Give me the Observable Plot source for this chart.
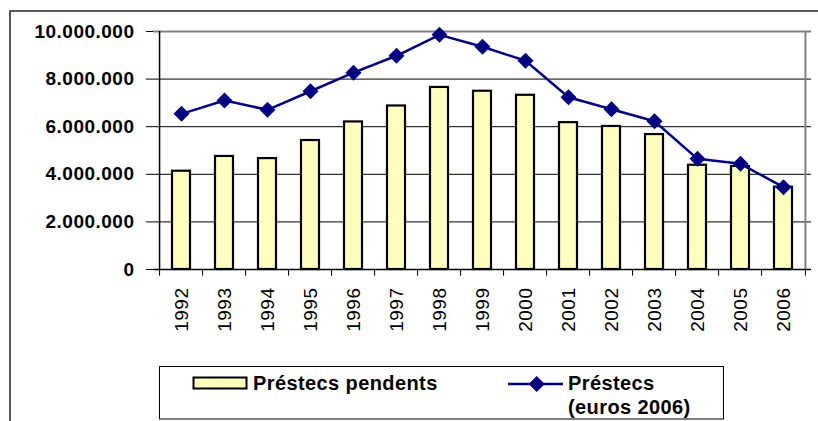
<!DOCTYPE html>
<html>
<head>
<meta charset="utf-8">
<script src="https://cdn.jsdelivr.net/npm/d3@7"></script>
<script src="https://cdn.jsdelivr.net/npm/@observablehq/plot@0.6"></script>
<style>
  html, body { margin: 0; padding: 0; background: #fff; }
  #chart { position: relative; width: 818px; height: 421px; overflow: hidden; }
</style>
</head>
<body>
<div id="chart"></div>
<script>
const years = ["1992","1993","1994","1995","1996","1997","1998","1999","2000","2001","2002","2003","2004","2005","2006"];
const pendingLoans = [4130000, 4750000, 4660000, 5420000, 6200000, 6870000, 7650000, 7490000, 7320000, 6170000, 6010000, 5670000, 4380000, 4330000, 3460000];
const loans2006 = [6540000, 7100000, 6710000, 7490000, 8270000, 8980000, 9860000, 9360000, 8770000, 7240000, 6730000, 6230000, 4650000, 4440000, 3460000];
const yTicks = [0, 2000000, 4000000, 6000000, 8000000, 10000000];
const gridTicks = [2000000, 4000000, 6000000, 8000000];
const seriesNames = ["Préstecs pendents", "Préstecs", "(euros 2006)"];

const data = years.map((y, i) => ({year: y, pending: pendingLoans[i], loans: loans2006[i]}));

const W = 818, H = 421;
const mL = 153, mR = 7, mT = 31, mB = 152;
const step = (W - mL - mR) / years.length;
const locale = d3.formatLocale({decimal: ",", thousands: ".", grouping: [3], currency: ["", ""]});
const fmt = locale.format(",");
const navy = "#000080";
const barFill = "#FFFFC0";

const plot = Plot.plot({
  width: W, height: H,
  marginLeft: mL, marginRight: mR, marginTop: mT, marginBottom: mB,
  style: {fontFamily: "'Liberation Sans', Arial, sans-serif", fontSize: "19px", color: "black", background: "white", overflow: "visible"},
  x: {type: "band", domain: years, paddingInner: 0.59, paddingOuter: 0.295},
  y: {domain: [0, 10000000]},
  marks: [
    Plot.ruleY(gridTicks, {stroke: "black", strokeWidth: 1}),
    Plot.ruleY([10000000], {stroke: "#808080", strokeWidth: 2}),
    Plot.ruleX(["2006"], {dx: step / 2, y1: 0, y2: 10000000, stroke: "#808080", strokeWidth: 2}),
    Plot.barY(data, {x: "year", y: "pending", fill: barFill, stroke: "black", strokeWidth: 2.2}),
    Plot.ruleY([0], {stroke: "black", strokeWidth: 1.5}),
    Plot.ruleX(["1992"], {dx: -step / 2, y1: 0, y2: 10000000, stroke: "black", strokeWidth: 1.5}),
    Plot.ruleX(years, {dx: -step / 2, y1: 0, y2: -280000, stroke: "black", strokeWidth: 1}),
    Plot.ruleX(["2006"], {dx: step / 2, y1: 0, y2: -280000, stroke: "black", strokeWidth: 1}),
    Plot.line(data, {x: "year", y: "loans", stroke: navy, strokeWidth: 2.5}),
    Plot.dot(data, {x: "year", y: "loans", symbol: "diamond2", r: 7.2, fill: navy, stroke: "none"}),
    Plot.axisY(yTicks, {tickFormat: fmt, tickSize: 7, tickPadding: 12, fontWeight: "bold", fontSize: 19, label: null, stroke: "black"}),
    Plot.axisX({tickSize: 0, tickRotate: -90, tickPadding: 18, fontSize: 19, label: null})
  ]
});
document.getElementById("chart").appendChild(plot);

const svg = d3.select(plot);
svg.selectAll("text").style("letter-spacing", "0.5px");

// outer chart frame
svg.append("path")
  .attr("d", "M10,425 L10,11 L822,11")
  .attr("fill", "none").attr("stroke", "#222").attr("stroke-width", 1.5);

// legend
const lg = svg.append("g").attr("font-family", "'Liberation Sans', Arial, sans-serif")
  .attr("font-weight", "bold").attr("font-size", 20).attr("text-anchor", "start")
  .style("letter-spacing", "0.4px");
lg.append("rect").attr("x", 159.5).attr("y", 366.5).attr("width", 564).attr("height", 52.5)
  .attr("fill", "white").attr("stroke", "black").attr("stroke-width", 1);
lg.append("rect").attr("x", 193.5).attr("y", 377.5).attr("width", 53).attr("height", 11)
  .attr("fill", barFill).attr("stroke", "black").attr("stroke-width", 2);
lg.append("text").attr("x", 253).attr("y", 389.5).attr("text-anchor", "start").text(seriesNames[0]);
lg.append("line").attr("x1", 508).attr("x2", 563).attr("y1", 384).attr("y2", 384)
  .attr("stroke", navy).attr("stroke-width", 2.5);
lg.append("path").attr("d", "M536.7,376 L544.7,384 L536.7,392 L528.7,384 Z").attr("fill", navy);
lg.append("text").attr("x", 568).attr("y", 389.5).attr("text-anchor", "start").text(seriesNames[1]);
lg.append("text").attr("x", 568).attr("y", 414).attr("text-anchor", "start").text(seriesNames[2]);
</script>
</body>
</html>
